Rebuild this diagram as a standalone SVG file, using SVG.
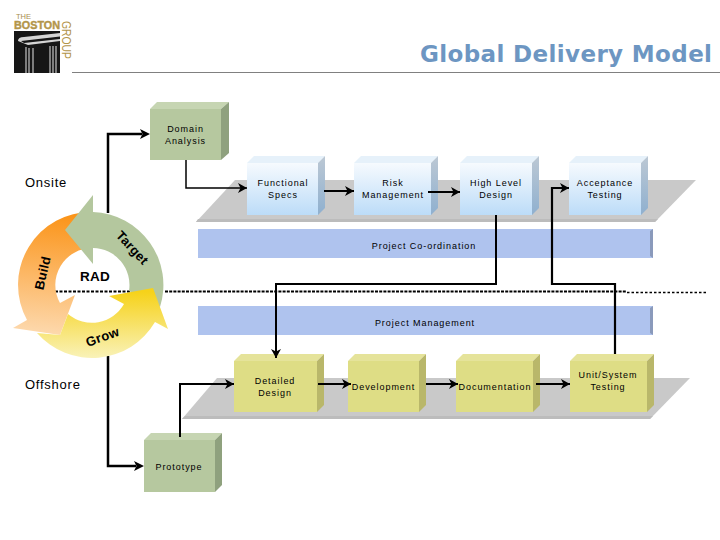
<svg xmlns="http://www.w3.org/2000/svg" width="720" height="540" viewBox="0 0 720 540">
<style>
text{font-family:"Liberation Sans",Arial,sans-serif;fill:#000}
.l{font-size:9px;letter-spacing:.95px;text-anchor:middle}
.h{font-size:13px;letter-spacing:.75px}
.c{font-size:13px;font-weight:bold;text-anchor:middle;letter-spacing:.3px}
.w{fill:none;stroke:#000;stroke-linejoin:miter}
.t1{fill:#c6d5b2}.s1{fill:#8fa17e}.f1{fill:#b6c89f}
.t2{fill:#e6f1fa}.s2{fill:url(#sb)}.f2{fill:url(#fb)}
.t3{fill:#e5e39a}.s3{fill:#b9b76a}.f3{fill:#dedd85}
.bar{fill:#afc3ee}.edge{fill:#8a9abb}.plat{fill:#c9c9c9}.band{fill:#bcbcbc}
</style>
<defs>
<linearGradient id="fb" x1="0" y1="0" x2="0" y2="1"><stop offset="0" stop-color="#f6fafe"/><stop offset="1" stop-color="#bcdcf8"/></linearGradient>
<linearGradient id="sb" x1="0" y1="0" x2="0" y2="1"><stop offset="0" stop-color="#bcc8d4"/><stop offset="1" stop-color="#8fb0cf"/></linearGradient>
<linearGradient id="og" gradientUnits="userSpaceOnUse" x1="60" y1="215" x2="50" y2="335"><stop offset="0" stop-color="#fb9419"/><stop offset="1" stop-color="#fdd9ae"/></linearGradient>
<linearGradient id="yg" gradientUnits="userSpaceOnUse" x1="0" y1="292" x2="0" y2="358"><stop offset="0" stop-color="#f6d21a"/><stop offset="1" stop-color="#f9f2b8"/></linearGradient>
<marker id="a" markerUnits="userSpaceOnUse" viewBox="-10 -6 11 12" refX="0" refY="0" markerWidth="11" markerHeight="12" orient="auto"><path d="M-9,-5 L0,0 L-9,5 L-6.5,0 Z" fill="#000"/></marker>
</defs>

<g id="logo">
<rect x="14" y="31" width="46" height="42" fill="#161616"/>
<path d="M18,41 Q18,37 24,37 L60,33 L60,41 L28,45 Z" fill="#d5d5d5"/>
<path d="M21,41 L60,36.5 L60,39 L24,43 Z" fill="#161616"/>
<path d="M26,47V73M29,48V73M33,48V73M50,46V73M53,46V73M56,46V73" stroke="#c4c4c4" stroke-width="1.200" fill="none"/>
<text x="16" y="18.500" font-size="7.500" style="fill:#a88e4e">THE</text>
<text x="14" y="29" font-size="10.500" font-weight="bold" style="fill:#b3954a;stroke:#b3954a;stroke-width:.4" textLength="46" lengthAdjust="spacingAndGlyphs">BOSTON</text>
<text transform="translate(62,21) rotate(90)" font-size="12" style="fill:#b3954a" textLength="38" lengthAdjust="spacingAndGlyphs">GROUP</text>
</g>

<g id="header">
<line x1="72" y1="72.500" x2="720" y2="72.500" stroke="#808080" stroke-width="1"/>
<text x="420" y="62" font-size="23" font-weight="bold" textLength="292" style="font-family:'DejaVu Sans',sans-serif;fill:#6d96c2">Global Delivery Model</text>
</g>

<g id="platform-onsite">
<path class="plat" d="M235,180H696L655,222H196Z"/>
<path class="band" d="M198,219H658L655,222H196Z"/>
</g>
<g id="platform-offshore">
<path class="plat" d="M217,378H690L650,419H182Z"/>
<path class="band" d="M185,416H653L650,419H182Z"/>
</g>

<g id="bar-coordination">
<rect class="bar" x="198" y="229" width="455" height="29"/>
<path class="edge" d="M650,231L653,229V258L650,256Z"/>
<text class="l" x="424" y="249">Project Co-ordination</text>
</g>
<g id="bar-management">
<rect class="bar" x="198" y="306" width="455" height="29"/>
<path class="edge" d="M650,308L653,306V335L650,333Z"/>
<text class="l" x="425" y="326">Project Management</text>
</g>

<g id="dotted-divider" fill="none" stroke="#000">
<path d="M55,291.500H130" stroke-width="2" stroke-dasharray="3 1.500"/>
<path d="M165,291.500H627" stroke-width="2.200" stroke-dasharray="3 1.200"/>
<path d="M627,292.500H708" stroke-width="1.600" stroke-dasharray="2.500 2"/>
</g>

<g id="loop-line">
<path class="w" stroke-width="2.500" d="M108,213V134H142"/>
<path class="w" stroke-width="2.500" d="M108,356V466H136"/>
<path d="M140,129L150,134L140,139L142.500,134Z" fill="#000"/>
<path d="M134,461L144,466L134,471L136.500,466Z" fill="#000"/>
</g>

<g id="rad-cycle">
<path id="build" fill="url(#og)" d="M93,212A73,73 0 0 0 27,320L13,328L60,335L75,295L60,303A37,37 0 0 1 93,248Z"/>
<path id="target" fill="#b4c79e" d="M93,195L65,230L93,264L93,248A37,37 0 0 1 129,291L160,307A73,73 0 0 0 93,212Z"/>
<path id="grow" fill="url(#yg)" d="M37,333A73,73 0 0 0 155,322L168,329L153,288L109,296L124,304A37,37 0 0 1 68,314L60,335Z"/>
<text class="c" transform="translate(47,274) rotate(-77)">Build</text>
<text class="c" transform="translate(132,248) rotate(47)" y="4">Target</text>
<text class="c" transform="translate(104,341) rotate(-20)">Grow</text>
<text class="c" x="95" y="281" style="font-size:13.500px">RAD</text>
</g>

<text id="label-onsite" class="h" x="25" y="187">Onsite</text>
<text id="label-offshore" class="h" x="25" y="389">Offshore</text>

<g id="domain-analysis">
<path class="t1" d="M150,109L157,102H229L221,109Z"/><path class="s1" d="M221,109L229,102V153L221,160Z"/><rect class="f1" x="150" y="109" width="71" height="51"/>
<text class="l" x="185.500" y="132">Domain</text><text class="l" x="185.500" y="144">Analysis</text>
</g>
<g id="functional-specs">
<path class="t2" d="M247,163L254,156H325L318,163Z"/><path class="s2" d="M318,163L325,156V208L318,215Z"/><rect class="f2" x="247" y="163" width="71" height="52"/>
<text class="l" x="283" y="186">Functional</text><text class="l" x="283" y="198">Specs</text>
</g>
<g id="risk-management">
<path class="t2" d="M354,163L361,156H438L431,163Z"/><path class="s2" d="M431,163L438,156V208L431,215Z"/><rect class="f2" x="354" y="163" width="77" height="52"/>
<text class="l" x="393" y="186">Risk</text><text class="l" x="393" y="198">Management</text>
</g>
<g id="high-level-design">
<path class="t2" d="M460,163L467,156H539L532,163Z"/><path class="s2" d="M532,163L539,156V208L532,215Z"/><rect class="f2" x="460" y="163" width="72" height="52"/>
<text class="l" x="496" y="186">High Level</text><text class="l" x="496" y="198">Design</text>
</g>
<g id="acceptance-testing">
<path class="t2" d="M569,163L576,156H648L641,163Z"/><path class="s2" d="M641,163L648,156V208L641,215Z"/><rect class="f2" x="569" y="163" width="72" height="52"/>
<text class="l" x="605" y="186">Acceptance</text><text class="l" x="605" y="198">Testing</text>
</g>
<g id="detailed-design">
<path class="t3" d="M234,361L241,354H324L317,361Z"/><path class="s3" d="M317,361L324,354V405L317,412Z"/><rect class="f3" x="234" y="361" width="83" height="51"/>
<text class="l" x="275" y="384">Detailed</text><text class="l" x="275" y="396">Design</text>
</g>
<g id="development">
<path class="t3" d="M348,361L355,354H426L419,361Z"/><path class="s3" d="M419,361L426,354V405L419,412Z"/><rect class="f3" x="348" y="361" width="71" height="51"/>
<text class="l" x="383.500" y="390">Development</text>
</g>
<g id="documentation">
<path class="t3" d="M456,361L463,354H540L533,361Z"/><path class="s3" d="M533,361L540,354V405L533,412Z"/><rect class="f3" x="456" y="361" width="77" height="51"/>
<text class="l" x="495" y="390">Documentation</text>
</g>
<g id="unit-system-testing">
<path class="t3" d="M570,361L577,354H654L647,361Z"/><path class="s3" d="M647,361L654,354V405L647,412Z"/><rect class="f3" x="570" y="361" width="77" height="51"/>
<text class="l" x="608" y="378">Unit/System</text><text class="l" x="608" y="390">Testing</text>
</g>
<g id="prototype">
<path class="t1" d="M144,440L151,433H222L215,440Z"/><path class="s1" d="M215,440L222,433V485L215,492Z"/><rect class="f1" x="144" y="440" width="71" height="52"/>
<text class="l" x="179" y="470">Prototype</text>
</g>

<g id="connectors">
<path class="w" stroke-width="1.500" marker-end="url(#a)" d="M186,160V188H247"/>
<path class="w" stroke-width="2" marker-end="url(#a)" d="M324,191H354"/>
<path class="w" stroke-width="2" marker-end="url(#a)" d="M428,192H460"/>
<path class="w" stroke-width="2" marker-end="url(#a)" d="M496,215V284H276V358"/>
<path class="w" stroke-width="2.200" marker-end="url(#a)" d="M615,354V284H552V188H569"/>
<path class="w" stroke-width="2" marker-end="url(#a)" d="M180,437V384H234"/>
<path class="w" stroke-width="2" marker-end="url(#a)" d="M318,384H351"/>
<path class="w" stroke-width="2" marker-end="url(#a)" d="M426,384H458"/>
<path class="w" stroke-width="2" marker-end="url(#a)" d="M536,384H570"/>
</g>
</svg>
